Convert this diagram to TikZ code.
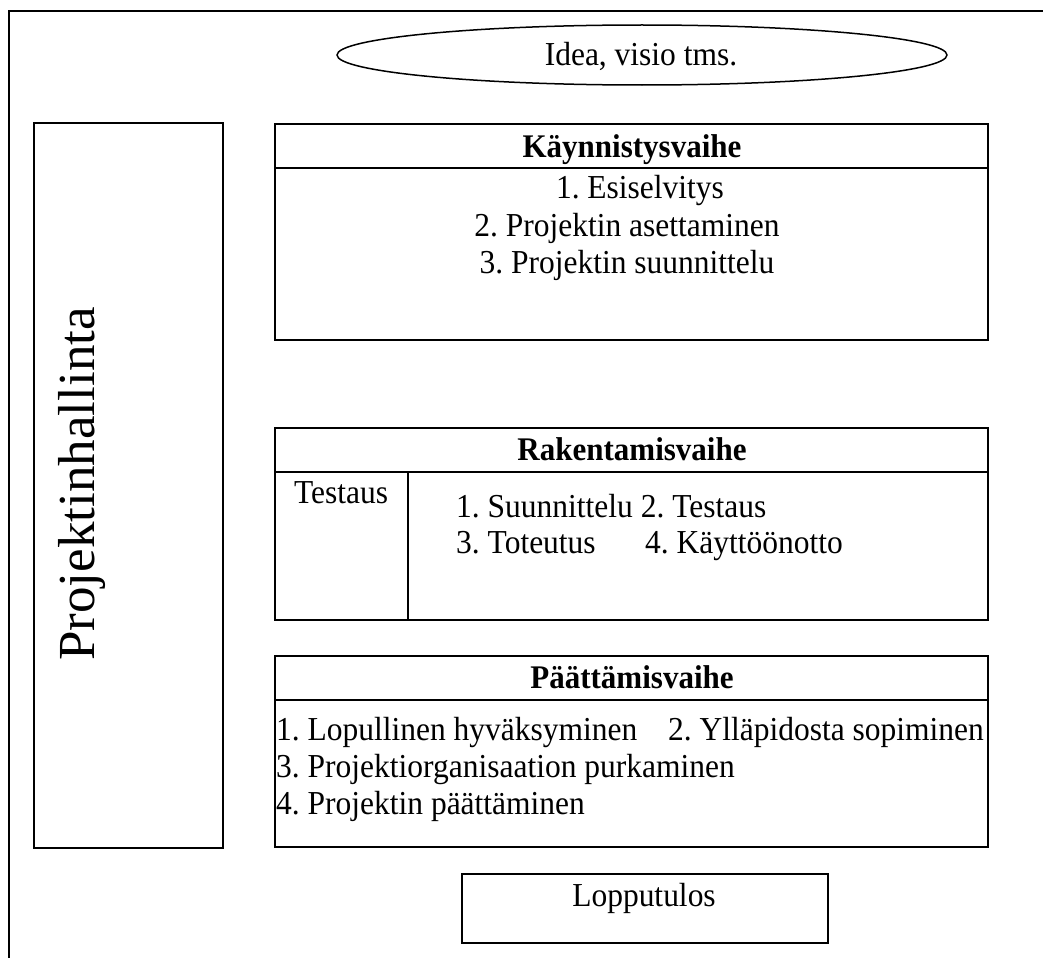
\documentclass[tikz,border=0pt]{standalone}
\usepackage{fontspec}
\setmainfont[FakeStretch=0.94]{Liberation Serif}
\newfontfamily\tallfont[FakeStretch=1.02]{Liberation Serif}
\usetikzlibrary{shapes.geometric}

\tikzset{
  frame/.style={draw, line width=1.5pt},
  phasebox/.style={frame, inner sep=0pt, minimum width=713pt},
  heading/.style={font=\fontsize{33}{38}\selectfont\bfseries, anchor=base, inner sep=0pt},
  body/.style={font=\fontsize{33.5}{38}\selectfont, anchor=base, inner sep=0pt},
  bodyleft/.style={body, anchor=base west}
}

\begin{document}
\frenchspacing
\begin{tikzpicture}[x=1pt,y=-1pt]
\useasboundingbox (0,0) rectangle (1052,958);
\draw[line width=1.5pt] (9,958) -- (9,11) -- (1043,11);

\node[frame, ellipse, minimum width=610pt, minimum height=60pt] (idea) at (642,55) {};
\node[body] (ideatext) at (641,66) {Idea, visio tms.};

% vasen palkki
\node[frame, inner sep=0pt, minimum width=189pt, minimum height=725pt] (hallinta) at (128.5,485.5) {};
\node[font=\fontsize{52}{56}\tallfont, rotate=90, anchor=base, inner sep=0pt] (hallintatext) at (94,484) {Projektinhallinta};

% kaynnistys
\node[phasebox, minimum height=216pt] (kaynnistys) at (631.5,232) {};
\draw[line width=1.5pt] (kaynnistys.west |- 0,168) coordinate (k1) -- (kaynnistys.east |- 0,168) coordinate (k2);
\node[heading] (kaynnistyshead) at (632,157) {Käynnistysvaihe};
\node[body] (esiselvitys) at (640,198) {1. Esiselvitys};
\node[body] (asettaminen) at (627,236) {2. Projektin asettaminen};
\node[body] (suunnittelu) at (627,273) {3. Projektin suunnittelu};

% rakentaminen
\node[phasebox, minimum height=192pt] (rakentaminen) at (631.5,524) {};
\draw[line width=1.5pt] (rakentaminen.west |- 0,472) coordinate (r1) -- (rakentaminen.east |- 0,472) coordinate (r2);
\draw[line width=1.5pt] (408,472) coordinate (r3) -- (408,620) coordinate (r4);
\node[heading] (rakentaminenhead) at (632,460) {Rakentamisvaihe};
\node[body] (testaus) at (341,503) {Testaus};
\node[bodyleft] (rakennus1) at (456,517) {1. Suunnittelu 2. Testaus};
\node[bodyleft] (toteutus) at (456,553) {3. Toteutus};
\node[bodyleft] (kayttoonotto) at (645,553) {4. Käyttöönotto};

% paattaminen
\node[phasebox, minimum height=191pt] (paattaminen) at (631.5,751.5) {};
\draw[line width=1.5pt] (paattaminen.west |- 0,700) coordinate (p1) -- (paattaminen.east |- 0,700) coordinate (p2);
\node[heading] (paattaminenhead) at (632,688) {Päättämisvaihe};
\node[bodyleft] (hyvaksyminen) at (276,740) {1. Lopullinen hyväksyminen};
\node[bodyleft] (yllapito) at (668,740) {2. Ylläpidosta sopiminen};
\node[bodyleft] (purkaminen) at (276,777) {3. Projektiorganisaation purkaminen};
\node[bodyleft] (paattaminenloppu) at (276,814) {4. Projektin päättäminen};

\node[frame, inner sep=0pt, minimum width=366pt, minimum height=69pt] (lopputulos) at (645,908.5) {};
\node[body] (lopputulostext) at (644,906) {Lopputulos};
\end{tikzpicture}
\end{document}
